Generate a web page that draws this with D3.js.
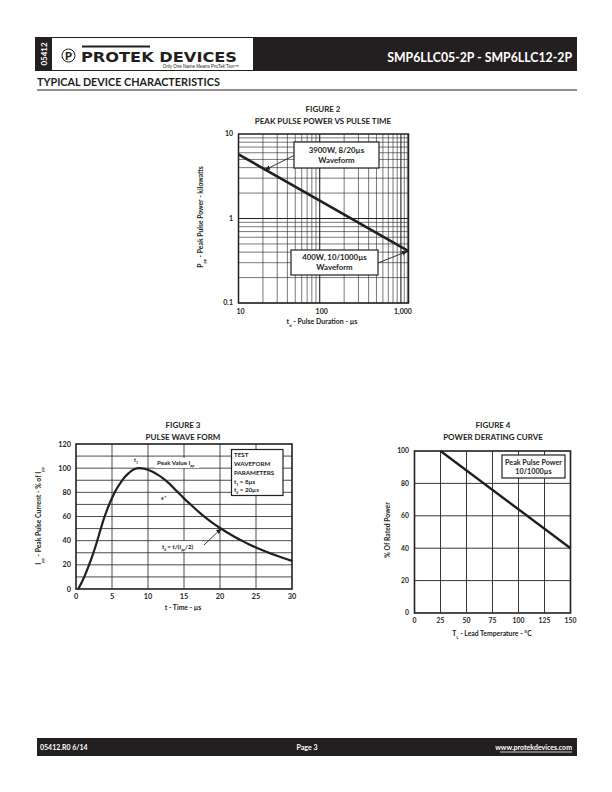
<!DOCTYPE html>
<html>
<head>
<meta charset="utf-8">
<script src="https://cdn.jsdelivr.net/npm/d3@7"></script>
<style>
    body { margin: 0; background: #fff; }
    svg text { font-family: Lato, "Open Sans", sans-serif; font-weight: bold; fill: #231f20; }
</style>
</head>
<body>
<svg id="page" width="612" height="792"></svg>
<script>
// Figure 2 - peak pulse power vs pulse time (log-log)
const fig2Time = [10, 1240];
const fig2Power = [5.75, 0.41];
const fig2XTicks = [10, 100, 1000];
const fig2XLabels = ['10', '100', '1,000'];
const fig2YTicks = [0.1, 1, 10];
const fig2YLabels = ['0.1', '1', '10'];

// Figure 3 - pulse wave form
const fig3Time = [0.3, 0.75, 1.25, 1.75, 2.25, 2.75, 3.25, 3.75, 4.25, 4.75, 5.25, 5.75, 6.25, 6.75,
    7.25, 7.75, 8.25, 8.75, 9.5, 10.5, 11.5, 12, 13, 14, 15, 16, 17, 18, 19, 20, 21, 22, 23, 24, 25,
    26, 27, 28, 29, 30];
const fig3Current = [0, 5, 11.5, 19, 27, 36, 46, 56, 64.5, 72, 78.5, 84, 88.5, 92.5,
    95.5, 98, 99.5, 100, 99.5, 97.5, 94, 92, 87, 81, 75, 69.5, 64, 59, 54.5, 50.5, 46.8, 43.3, 40.1, 37, 34.3,
    31.8, 29.5, 27.3, 25.2, 23.3];
const fig3XTicks = [0, 5, 10, 15, 20, 25, 30];
const fig3YTicks = [0, 20, 40, 60, 80, 100, 120];

// Figure 4 - power derating curve
const fig4Temp = [25, 150];
const fig4Power = [100, 40];
const fig4XTicks = [0, 25, 50, 75, 100, 125, 150];
const fig4YTicks = [0, 20, 40, 60, 80, 100];

const svg = d3.select('#page');
const ink = '#231f20';

// Marker for annotation arrows
svg.append('defs').append('marker')
    .attr('id', 'arrow')
    .attr('viewBox', '0 0 10 10')
    .attr('refX', 9).attr('refY', 5)
    .attr('markerWidth', 7).attr('markerHeight', 7)
    .attr('orient', 'auto-start-reverse')
    .append('path')
    .attr('d', 'M0,1.5 L10,5 L0,8.5 Z')
    .attr('fill', ink);

drawHeader();
drawFigure2();
drawFigure3();
drawFigure4();
drawFooter();

function drawHeader() {
    svg.append('rect').attr('x', 35).attr('y', 37).attr('width', 542).attr('height', 34).attr('fill', ink);
    svg.append('rect').attr('x', 52).attr('y', 38).attr('width', 201).attr('height', 32).attr('fill', '#fff');

    svg.append('text')
        .attr('transform', 'translate(47,54) rotate(-90)')
        .attr('text-anchor', 'middle')
        .style('font-size', '8px')
        .style('fill', '#fff')
        .text('05412');

    // logo
    svg.append('circle').attr('cx', 68.5).attr('cy', 55.5).attr('r', 6.5)
        .attr('fill', 'none').attr('stroke', ink).attr('stroke-width', 1);
    svg.append('text').attr('x', 68.5).attr('y', 59.5).attr('text-anchor', 'middle')
        .style('font-size', '11px').style('font-weight', '900').text('P');
    svg.append('rect').attr('x', 82).attr('y', 45.5).attr('width', 68).attr('height', 2).attr('fill', ink);
    svg.append('text').attr('x', 81).attr('y', 62)
        .attr('textLength', 156).attr('lengthAdjust', 'spacingAndGlyphs')
        .style('font-family', '"DejaVu Sans", sans-serif').style('font-size', '14px').style('font-weight', '900')
        .text('PROTEK DEVICES');
    svg.append('text').attr('x', 239).attr('y', 67.5).attr('text-anchor', 'end')
        .style('font-family', '"Liberation Sans", sans-serif').style('font-size', '4.5px').style('font-weight', 'normal')
        .text('Only One Name Means ProTek\u2019Tion\u2122');

    svg.append('text')
        .attr('x', 572).attr('y', 62).attr('text-anchor', 'end')
        .style('font-size', '12.3px')
        .style('fill', '#fff')
        .text('SMP6LLC05-2P - SMP6LLC12-2P');

    svg.append('text')
        .attr('x', 37).attr('y', 86)
        .style('font-size', '10.8px')
        .text('TYPICAL DEVICE CHARACTERISTICS');
    svg.append('line').attr('x1', 37).attr('x2', 577).attr('y1', 90).attr('y2', 90)
        .attr('stroke', ink).attr('stroke-width', 1);
}

function drawFooter() {
    svg.append('rect').attr('x', 37).attr('y', 738).attr('width', 540).attr('height', 18).attr('fill', ink);
    svg.append('text').attr('x', 40).attr('y', 749.5).style('fill', '#fff').style('font-size', '7px').text('05412.R0 6/14');
    svg.append('text').attr('x', 307).attr('y', 749.5).attr('text-anchor', 'middle').style('fill', '#fff')
        .style('font-size', '7px').text('Page 3');
    svg.append('text').attr('x', 572).attr('y', 749.5).attr('text-anchor', 'end').style('fill', '#fff')
        .style('font-size', '7px').text('www.protekdevices.com');
    svg.append('line').attr('x1', 500).attr('x2', 572).attr('y1', 752).attr('y2', 752)
        .attr('stroke', '#fff').attr('stroke-width', 0.8);
}

function titles(cx, y, a, b) {
    svg.append('text').attr('x', cx).attr('y', y).attr('text-anchor', 'middle').style('font-size', '8px').text(a);
    svg.append('text').attr('x', cx).attr('y', y + 11.5).attr('text-anchor', 'middle').style('font-size', '8px').text(b);
}

function labelBox(x, y, w, h, lines, size, lineGap) {
    svg.append('rect').attr('x', x).attr('y', y).attr('width', w).attr('height', h)
        .attr('fill', '#fff').attr('stroke', ink).attr('stroke-width', 1.2);
    const t = svg.append('text').attr('text-anchor', 'middle').style('font-size', size + 'px');
    lines.forEach((l, i) => {
        t.append('tspan').attr('x', x + w / 2)
            .attr('y', y + h / 2 + (i - (lines.length - 1) / 2) * lineGap + size * 0.35)
            .text(l);
    });
}

function arrow(x1, y1, x2, y2) {
    svg.append('line')
        .attr('x1', x1).attr('y1', y1).attr('x2', x2).attr('y2', y2)
        .attr('stroke', ink).attr('stroke-width', 0.9)
        .attr('marker-end', 'url(#arrow)');
}

function drawFigure2() {
    titles(323, 112, 'FIGURE 2', 'PEAK PULSE POWER VS PULSE TIME');

    const x = d3.scaleLog().domain([10, 1240]).range([238.5, 408.5]);
    const y = d3.scaleLog().domain([0.1, 10]).range([303, 134]);

    const g = svg.append('g');
    const vLines = [];
    [10, 100].forEach(d => { for (let k = 1; k < 10; k++) vLines.push(d * k); });
    vLines.push(1000, 1100, 1200);
    const hLines = [];
    [0.1, 1].forEach(d => { for (let k = 1; k < 10; k++) hLines.push(d * k); });

    g.selectAll('.v').data(vLines).enter().append('line')
        .attr('x1', d => x(d)).attr('x2', d => x(d))
        .attr('y1', y(0.1)).attr('y2', y(10))
        .attr('stroke', ink).attr('stroke-width', d => (d === 100 || d === 1000) ? 1.1 : 0.6);
    g.selectAll('.h').data(hLines).enter().append('line')
        .attr('y1', d => y(d)).attr('y2', d => y(d))
        .attr('x1', x(10)).attr('x2', x(1240))
        .attr('stroke', ink).attr('stroke-width', d => d === 1 ? 1.1 : 0.6);

    g.append('rect').attr('x', x(10)).attr('y', y(10))
        .attr('width', x(1240) - x(10)).attr('height', y(0.1) - y(10))
        .attr('fill', 'none').attr('stroke', ink).attr('stroke-width', 1.5);

    const line = d3.line().x((d, i) => x(fig2Time[i])).y(d => y(d));
    g.append('path').datum(fig2Power).attr('d', line)
        .attr('fill', 'none').attr('stroke', ink).attr('stroke-width', 2.6);

    fig2XTicks.forEach((d, i) => {
        svg.append('text').attr('x', x(d) + 2).attr('y', 314).attr('text-anchor', 'middle')
            .style('font-size', '7px').text(fig2XLabels[i]);
    });
    fig2YTicks.forEach((d, i) => {
        svg.append('text').attr('x', 233).attr('y', y(d) + 2.3).attr('text-anchor', 'end')
            .style('font-size', '7px').text(fig2YLabels[i]);
    });

    const xl = svg.append('text').attr('x', 322).attr('y', 324).attr('text-anchor', 'middle').style('font-size', '7px');
    xl.append('tspan').text('t');
    xl.append('tspan').attr('baseline-shift', 'sub').style('font-size', '4px').text('d');
    xl.append('tspan').text(' - Pulse Duration - \u00b5s');

    const yl = svg.append('text').attr('transform', 'translate(203,217) rotate(-90)')
        .attr('text-anchor', 'middle').style('font-size', '6.8px');
    yl.append('tspan').text('P');
    yl.append('tspan').attr('baseline-shift', 'sub').style('font-size', '4px').text('pp');
    yl.append('tspan').text(' - Peak Pulse Power - kilowatts');

    labelBox(294, 142, 85, 26, ['3900W, 8/20\u00b5s', 'Waveform'], 7.8, 10);
    arrow(294, 155.5, x(21), y(3.85) + 1);
    labelBox(291, 250, 87, 25, ['400W, 10/1000\u00b5s', 'Waveform'], 7.8, 10);
    arrow(378, 263, x(1240) - 1, y(0.41));
}

function drawFigure3() {
    titles(183, 428, 'FIGURE 3', 'PULSE WAVE FORM');

    const x = d3.scaleLinear().domain([0, 30]).range([76, 292]);
    const y = d3.scaleLinear().domain([0, 120]).range([589, 444]);
    const g = svg.append('g');

    g.selectAll('.v').data(d3.range(5, 30, 5)).enter().append('line')
        .attr('x1', d => x(d)).attr('x2', d => x(d)).attr('y1', y(0)).attr('y2', y(120))
        .attr('stroke', ink).attr('stroke-width', 0.8);
    g.selectAll('.h').data(d3.range(10, 120, 10)).enter().append('line')
        .attr('y1', d => y(d)).attr('y2', d => y(d)).attr('x1', x(0)).attr('x2', x(30))
        .attr('stroke', ink).attr('stroke-width', 0.8);
    g.append('rect').attr('x', x(0)).attr('y', y(120))
        .attr('width', x(30) - x(0)).attr('height', y(0) - y(120))
        .attr('fill', 'none').attr('stroke', ink).attr('stroke-width', 1.6);

    const line = d3.line().x((d, i) => x(fig3Time[i])).y(d => y(d)).curve(d3.curveMonotoneX);
    g.append('path').datum(fig3Current).attr('d', line)
        .attr('fill', 'none').attr('stroke', ink).attr('stroke-width', 2.2);

    fig3XTicks.forEach(d => {
        svg.append('text').attr('x', x(d)).attr('y', 598.5).attr('text-anchor', 'middle')
            .style('font-size', '7.3px').text(d);
    });
    fig3YTicks.forEach(d => {
        svg.append('text').attr('x', 71).attr('y', y(d) + 2.5).attr('text-anchor', 'end')
            .style('font-size', '7.3px').text(d);
    });
    svg.append('text').attr('x', 183).attr('y', 610).attr('text-anchor', 'middle')
        .style('font-size', '6.8px').text('t - Time - \u00b5s');

    const yl = svg.append('text').attr('transform', 'translate(41,516) rotate(-90)')
        .attr('text-anchor', 'middle').style('font-size', '6.8px');
    yl.append('tspan').text('I');
    yl.append('tspan').attr('baseline-shift', 'sub').style('font-size', '4px').text('pp');
    yl.append('tspan').text(' - Peak Pulse Current - % of I');
    yl.append('tspan').attr('baseline-shift', 'sub').style('font-size', '4px').text('pp');

    // annotations
    const t1 = svg.append('text').attr('x', 134).attr('y', 462).style('font-size', '5.5px');
    t1.append('tspan').text('t');
    t1.append('tspan').attr('baseline-shift', 'sub').style('font-size', '3.5px').text('1');

    svg.append('rect').attr('x', 155).attr('y', 458).attr('width', 44).attr('height', 10).attr('fill', '#fff');
    const pv = svg.append('text').attr('x', 157).attr('y', 465).style('font-size', '6.2px');
    pv.append('tspan').text('Peak Value I');
    pv.append('tspan').attr('baseline-shift', 'sub').style('font-size', '3.5px').text('pp');

    const et = svg.append('text').attr('x', 161).attr('y', 500).style('font-size', '5px');
    et.append('tspan').text('e');
    et.append('tspan').attr('baseline-shift', 'super').style('font-size', '3.5px').text('-t');

    svg.append('rect').attr('x', 159).attr('y', 541).attr('width', 43).attr('height', 11).attr('fill', '#fff');
    const td = svg.append('text').attr('x', 162).attr('y', 548.5).style('font-size', '6.2px');
    td.append('tspan').text('t');
    td.append('tspan').attr('baseline-shift', 'sub').style('font-size', '3.5px').text('d');
    td.append('tspan').attr('dx', 1).text('= t/(I');
    td.append('tspan').attr('baseline-shift', 'sub').style('font-size', '3.5px').text('pp');
    td.append('tspan').text('/2)');
    arrow(204, 545, x(20.2), y(51) + 1);

    svg.append('rect').attr('x', 231.5).attr('y', 449.5).attr('width', 51.5).attr('height', 46)
        .attr('fill', '#fff').attr('stroke', ink).attr('stroke-width', 1.2);
    const box = svg.append('g');
    ['TEST', 'WAVEFORM', 'PARAMETERS'].forEach((l, i) => {
        box.append('text').attr('x', 234).attr('y', 456.5 + i * 9).style('font-size', '6.2px').text(l);
    });
    const p1 = box.append('text').attr('x', 234).attr('y', 483.5).style('font-size', '6.2px');
    p1.append('tspan').text('t');
    p1.append('tspan').attr('baseline-shift', 'sub').style('font-size', '3.5px').text('1');
    p1.append('tspan').text(' = 8\u00b5s');
    const p2 = box.append('text').attr('x', 234).attr('y', 492).style('font-size', '6.2px');
    p2.append('tspan').text('t');
    p2.append('tspan').attr('baseline-shift', 'sub').style('font-size', '3.5px').text('d');
    p2.append('tspan').text(' = 20\u00b5s');
}

function drawFigure4() {
    titles(493, 428, 'FIGURE 4', 'POWER DERATING CURVE');

    const x = d3.scaleLinear().domain([0, 150]).range([414.5, 570.5]);
    const y = d3.scaleLinear().domain([0, 100]).range([613, 451]);
    const g = svg.append('g');

    g.selectAll('.v').data(d3.range(25, 150, 25)).enter().append('line')
        .attr('x1', d => x(d)).attr('x2', d => x(d)).attr('y1', y(0)).attr('y2', y(100))
        .attr('stroke', ink).attr('stroke-width', 0.9);
    g.selectAll('.h').data(d3.range(20, 100, 20)).enter().append('line')
        .attr('y1', d => y(d)).attr('y2', d => y(d)).attr('x1', x(0)).attr('x2', x(150))
        .attr('stroke', ink).attr('stroke-width', 0.9);
    g.append('rect').attr('x', x(0)).attr('y', y(100))
        .attr('width', x(150) - x(0)).attr('height', y(0) - y(100))
        .attr('fill', 'none').attr('stroke', ink).attr('stroke-width', 1.6);

    const line = d3.line().x((d, i) => x(fig4Temp[i])).y(d => y(d));
    g.append('path').datum(fig4Power).attr('d', line)
        .attr('fill', 'none').attr('stroke', ink).attr('stroke-width', 2.4);

    fig4XTicks.forEach(d => {
        svg.append('text').attr('x', x(d)).attr('y', 623).attr('text-anchor', 'middle')
            .style('font-size', '6.8px').text(d);
    });
    fig4YTicks.forEach(d => {
        svg.append('text').attr('x', 409).attr('y', y(d) + 2.3).attr('text-anchor', 'end')
            .style('font-size', '6.8px').text(d);
    });

    const xl = svg.append('text').attr('x', 492).attr('y', 636).attr('text-anchor', 'middle').style('font-size', '6.8px');
    xl.append('tspan').text('T');
    xl.append('tspan').attr('baseline-shift', 'sub').style('font-size', '4px').text('L');
    xl.append('tspan').text(' - Lead Temperature - \u00b0C');

    svg.append('text').attr('transform', 'translate(390,530) rotate(-90)')
        .attr('text-anchor', 'middle').style('font-size', '6.8px').text('% Of Rated Power');

    labelBox(502, 455, 63, 23, ['Peak Pulse Power', '10/1000\u00b5s'], 7.2, 9);
}
</script>
</body>
</html>
